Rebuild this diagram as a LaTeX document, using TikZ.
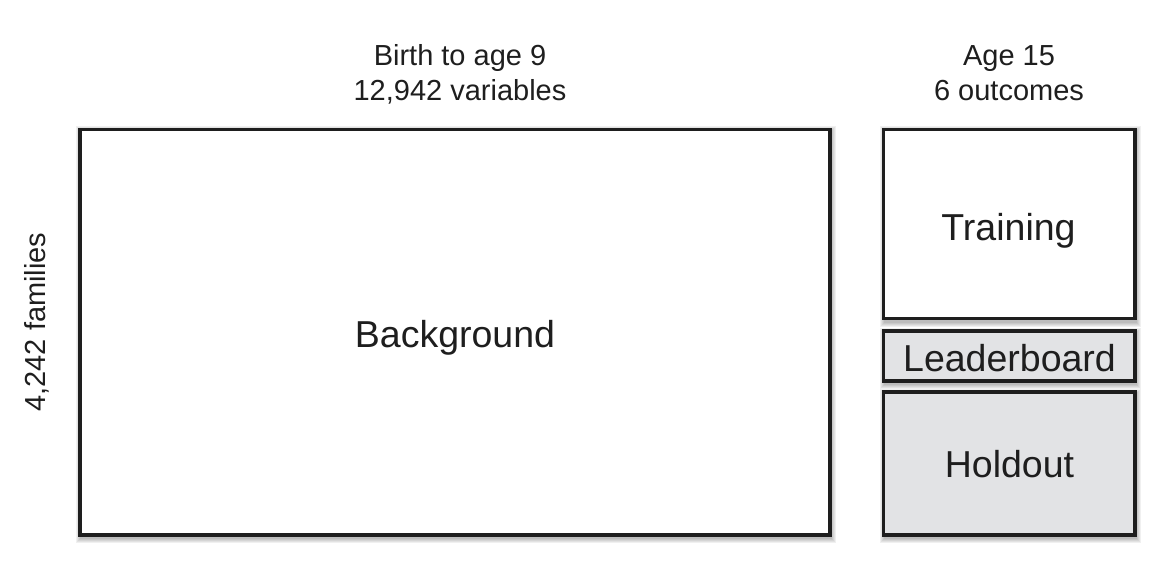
\documentclass[tikz,border=0pt]{standalone}
\usepackage{fontspec}
\setmainfont{Liberation Sans}
\definecolor{boxgray}{HTML}{E2E3E5}
\definecolor{linecol}{HTML}{1E1E1E}
\begin{document}
\begin{tikzpicture}[x=1pt,y=-1pt,
  panel/.style={draw=linecol,line width=3.5pt,inner sep=0pt},
  shadowbox/.style={fill=black,opacity=0.06},
  lbl/.style={font=\fontsize{37.5}{40}\selectfont,text=linecol,anchor=base,inner sep=0pt},
  hdr/.style={font=\fontsize{29}{34}\selectfont,text=linecol,anchor=base,inner sep=0pt}]
\useasboundingbox (0,0) rectangle (1158,564);
% soft drop shadows
\foreach \a/\b/\c/\d in {80/129.5/830/535,883.5/129.5/1135/318.5,883.5/331/1135/381,883.5/392/1135/535}{
  \foreach \e in {1,2,3,4,5}{
    \fill[shadowbox] (\a+1-\e,\b+2-\e) rectangle (\c+1+\e,\d+3+\e);
  }
}
\node[panel,fill=white,minimum width=750pt,minimum height=405.5pt] (bg) at (455,332.25) {};
\node[panel,fill=white,minimum width=251.5pt,minimum height=189pt] (tr) at (1009.25,224) {};
\node[panel,fill=boxgray,minimum width=251.5pt,minimum height=50pt] (lb) at (1009.25,356) {};
\node[panel,fill=boxgray,minimum width=251.5pt,minimum height=143pt] (ho) at (1009.25,463.5) {};
\node[lbl] (bgt) at (455,347) {Background};
\node[lbl] (trt) at (1008.5,240) {Training};
\node[lbl] (lbt) at (1009.5,371) {Leaderboard};
\node[lbl] (hot) at (1009.5,477.5) {Holdout};
\node[hdr] (h1a) at (460,66) {Birth to age 9};
\node[hdr] (h1b) at (460,101) {12,942 variables};
\node[hdr] (h2a) at (1009,66) {Age 15};
\node[hdr] (h2b) at (1009,101) {6 outcomes};
\node[hdr,anchor=center,rotate=90] (h3) at (37,322) {4,242 families};
\end{tikzpicture}
\end{document}
